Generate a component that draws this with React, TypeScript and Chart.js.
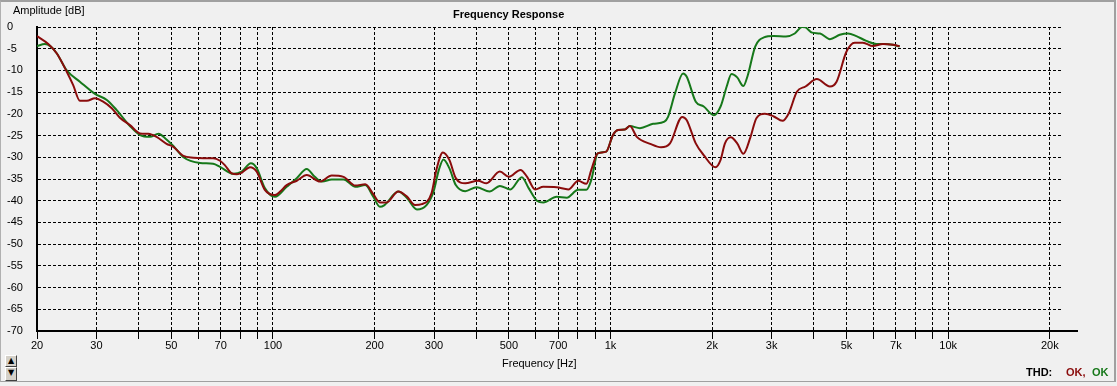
import React, { useEffect, useRef } from "react";
import { Chart, registerables } from "chart.js";

Chart.register(...registerables);

// Channel drawn in dark red
const redFreq = [
  20, 21.6, 22.9, 24.5, 25.6, 26.8, 28.1, 29.7, 31.4, 33.3, 35.2, 37.7, 40.4, 42.7, 45.2, 48.4, 50.7, 54.3,
  58.1, 62.2, 66.5, 69.7, 72, 75.5, 78.2, 81, 85.5, 89.5, 94.6, 101.4, 105, 109.8, 117.6, 125.9, 137.9,
  149.3, 161.8, 175.4, 187.7, 198.2, 207.4, 217, 235, 249, 263.6, 276, 294.8, 304.8, 318.6, 333, 348, 371,
  405, 429, 470, 500, 541, 566, 598, 632, 692, 750, 802, 848, 877, 916, 971, 1016, 1052, 1102, 1141, 1196,
  1310, 1411, 1500, 1630, 1680, 1788, 1888, 2046, 2118, 2182, 2270, 2372, 2474, 2598, 2704, 2864, 3044,
  3230, 3370, 3564, 3780, 4084, 4465, 4672, 4996, 5286, 5592, 5984, 6408, 6864, 7184,
];
const redDb = [
  -2.1, -3.9, -6.1, -10.3, -13.4, -17.0, -17.0, -16.4, -17.2, -18.7, -20.9, -22.6, -24.5, -24.6, -25.3,
  -26.9, -27.6, -29.7, -30.1, -30.2, -30.2, -30.8, -31.8, -33.7, -33.9, -33.5, -32.3, -33.3, -37.5, -38.7,
  -37.9, -36.4, -35.4, -34.1, -35.6, -34.2, -34.5, -36.5, -36.2, -38.5, -40.4, -40.4, -37.9, -39.0, -41.0,
  -40.8, -38.3, -32.9, -28.9, -30.6, -34.8, -36.0, -35.4, -36.0, -33.3, -34.5, -32.9, -34.5, -37.4, -36.8,
  -36.9, -37.4, -35.4, -36.1, -32.9, -29.1, -28.7, -24.9, -23.7, -23.6, -22.8, -25.3, -26.9, -27.7, -26.8,
  -20.7, -21.4, -26.8, -29.5, -32.3, -30.6, -26.8, -25.4, -26.8, -29.2, -25.3, -21.0, -20.0, -20.6, -21.6,
  -19.9, -14.9, -13.7, -12.0, -13.7, -12.6, -5.7, -3.6, -3.6, -4.4, -3.9, -4.1, -4.4,
];

// Channel drawn in green
const greenFreq = [
  20, 21.1, 21.9, 22.9, 24.5, 26.8, 29.7, 32.2, 34.4, 37.7, 40.4, 43.2, 45.8, 47.9, 50.7, 54.3, 60.8, 66.5,
  69.7, 76.3, 80.8, 86, 89.5, 94.6, 101.4, 109.8, 117.6, 125.9, 133, 140, 149.3, 161.8, 175.4, 187.7, 198.2,
  207.4, 214, 235, 249, 267, 285, 299, 310, 320, 333, 348, 371, 401, 438, 470, 505, 546, 572, 605, 632, 692,
  742, 802, 848, 877, 916, 971, 1016, 1052, 1102, 1141, 1222, 1336, 1444, 1480, 1552, 1640, 1680, 1788,
  1888, 2022, 2118, 2208, 2282, 2372, 2474, 2550, 2682, 2846, 3044, 3308, 3513, 3692, 3780, 3952, 4174,
  4465, 4774, 5050, 5348, 5724, 6126, 6486, 6864, 7184,
];
const greenDb = [
  -4.4, -3.9, -4.4, -6.1, -10.0, -12.6, -15.4, -16.8, -19.1, -22.8, -24.9, -25.3, -24.6, -25.6, -27.4,
  -30.0, -31.3, -31.5, -32.2, -33.8, -33.3, -31.4, -32.5, -37.1, -39.1, -36.8, -34.8, -32.7, -34.5, -35.6,
  -35.1, -35.1, -36.8, -36.4, -39.1, -41.4, -41.0, -37.9, -39.3, -42.0, -41.0, -37.9, -32.9, -30.5, -32.5,
  -36.4, -37.8, -36.9, -37.9, -36.6, -37.4, -34.6, -37.1, -40.0, -40.4, -39.1, -39.3, -37.5, -37.5, -35.2,
  -29.1, -28.7, -24.9, -23.7, -23.6, -22.8, -23.3, -22.3, -21.8, -20.7, -15.3, -10.7, -11.4, -17.2, -18.3,
  -20.3, -18.3, -13.7, -10.8, -11.6, -13.6, -11.1, -4.5, -2.4, -2.1, -2.2, -1.5, 0, -0.1, -1.3, -1.5, -2.8,
  -1.8, -1.5, -2.1, -3.2, -3.9, -3.9, -4.1, -4.5,
];

const xTickValues = [
  20, 30, 40, 50, 60, 70, 80, 90, 100, 200, 300, 400, 500, 600, 700, 800, 900, 1000, 2000, 3000, 4000,
  5000, 6000, 7000, 8000, 9000, 10000, 20000,
];
const xTickLabels: Record<number, string> = {
  20: "20", 30: "30", 50: "50", 70: "70", 100: "100", 200: "200", 300: "300", 500: "500", 700: "700",
  1000: "1k", 2000: "2k", 3000: "3k", 5000: "5k", 7000: "7k", 10000: "10k", 20000: "20k",
};
const xMin = 20;
const xMax = 21740;
const yMin = -70;
const yMax = 0;
const yStep = 5;

const FONT = "'Liberation Sans', Arial, sans-serif";

const axisExtension = {
  id: "axisExtension",
  afterDraw(chart: any) {
    const { ctx, chartArea } = chart;
    ctx.save();
    ctx.strokeStyle = "#000";
    ctx.lineWidth = 2;
    ctx.beginPath();
    ctx.moveTo(chartArea.right - 1, chartArea.bottom);
    ctx.lineTo(chartArea.right + 16, chartArea.bottom);
    ctx.stroke();
    ctx.restore();
  },
};

export default function App() {
  const ref = useRef<HTMLCanvasElement>(null);

  useEffect(() => {
    const chart = new Chart(ref.current as HTMLCanvasElement, {
      type: "line",
      data: {
        datasets: [
          {
            label: "Right",
            data: redFreq.map((f, i) => ({ x: f, y: redDb[i] })),
            borderColor: "#8a0c0c",
            borderWidth: 2,
            pointRadius: 0,
            fill: false,
            cubicInterpolationMode: "monotone",
          },
          {
            label: "Left",
            data: greenFreq.map((f, i) => ({ x: f, y: greenDb[i] })),
            borderColor: "#16781a",
            borderWidth: 2,
            pointRadius: 0,
            fill: false,
            cubicInterpolationMode: "monotone",
          },
        ],
      },
      options: {
        responsive: false,
        animation: false,
        events: [],
        layout: { padding: { left: 7, top: 27, right: 55, bottom: 0 } },
        plugins: {
          legend: { display: false },
          tooltip: { enabled: false },
          title: { display: false },
        },
        scales: {
          x: {
            type: "logarithmic",
            min: xMin,
            max: xMax,
            afterBuildTicks: (s: any) => {
              s.ticks = xTickValues.map((v) => ({ value: v }));
            },
            afterFit: (s: any) => {
              s.height = 55;
            },
            ticks: {
              autoSkip: false,
              maxRotation: 0,
              minRotation: 0,
              padding: 0,
              color: "#000",
              font: { family: FONT, size: 11 },
              callback: (v: any) => xTickLabels[Number(v)] ?? "",
            },
            grid: {
              color: "#000",
              lineWidth: 1,
              drawTicks: true,
              tickLength: 8,
              tickColor: "#000",
            },
            border: { display: true, color: "#000", width: 2, dash: [3, 2] },
          },
          y: {
            type: "linear",
            min: yMin,
            max: yMax,
            afterFit: (s: any) => {
              s.width = 30;
            },
            ticks: {
              stepSize: yStep,
              crossAlign: "far",
              padding: 0,
              color: "#000",
              font: { family: FONT, size: 11 },
            },
            grid: { color: "#000", lineWidth: 1, drawTicks: false },
            border: { display: true, color: "#000", width: 2, dash: [3, 2] },
          },
        },
      } as any,
      plugins: [axisExtension],
    });
    return () => chart.destroy();
  }, []);

  const txt: React.CSSProperties = {
    position: "absolute",
    fontFamily: FONT,
    fontSize: 11,
    lineHeight: "13px",
    color: "#000",
    whiteSpace: "nowrap",
  };
  const btn: React.CSSProperties = {
    position: "absolute",
    left: 5,
    width: 12,
    boxSizing: "border-box",
    border: "1px solid",
    borderColor: "#fff #404040 #404040 #fff",
    background: "#d4d0c8",
    fontSize: 8,
    lineHeight: "10px",
    textAlign: "center",
    color: "#000",
    fontFamily: "'DejaVu Sans', sans-serif",
  };

  return (
    <div
      style={{
        position: "absolute",
        left: 0,
        top: 0,
        width: 1117,
        height: 386,
        background: "#f0f0f0",
        overflow: "hidden",
      }}
    >
      <canvas ref={ref} width={1117} height={386} style={{ position: "absolute", left: 0, top: 0 }} />
      <div
        style={{
          position: "absolute",
          left: 0,
          top: 0,
          width: 1116,
          height: 382,
          boxSizing: "border-box",
          borderTop: "2px solid #a0a0a0",
          borderLeft: "1px solid #b0b0b0",
          borderRight: "2px solid #a0a0a0",
          borderBottom: "1px solid #a0a0a0",
          pointerEvents: "none",
        }}
      />
      <div style={{ ...txt, left: 13, top: 4 }}>Amplitude [dB]</div>
      <div style={{ ...txt, left: 453, top: 8, fontWeight: "bold" }}>Frequency Response</div>
      <div style={{ ...txt, left: 502, top: 357 }}>Frequency [Hz]</div>
      <div style={{ ...txt, left: 1026, top: 366, fontWeight: "bold" }}>THD:</div>
      <div style={{ ...txt, left: 1066, top: 366, fontWeight: "bold", color: "#8a0c0c" }}>OK,</div>
      <div style={{ ...txt, left: 1092, top: 366, fontWeight: "bold", color: "#16781a" }}>OK</div>
      <div style={{ ...btn, top: 355, height: 12 }}>▲</div>
      <div style={{ ...btn, top: 367, height: 14 }}>▼</div>
    </div>
  );
}
